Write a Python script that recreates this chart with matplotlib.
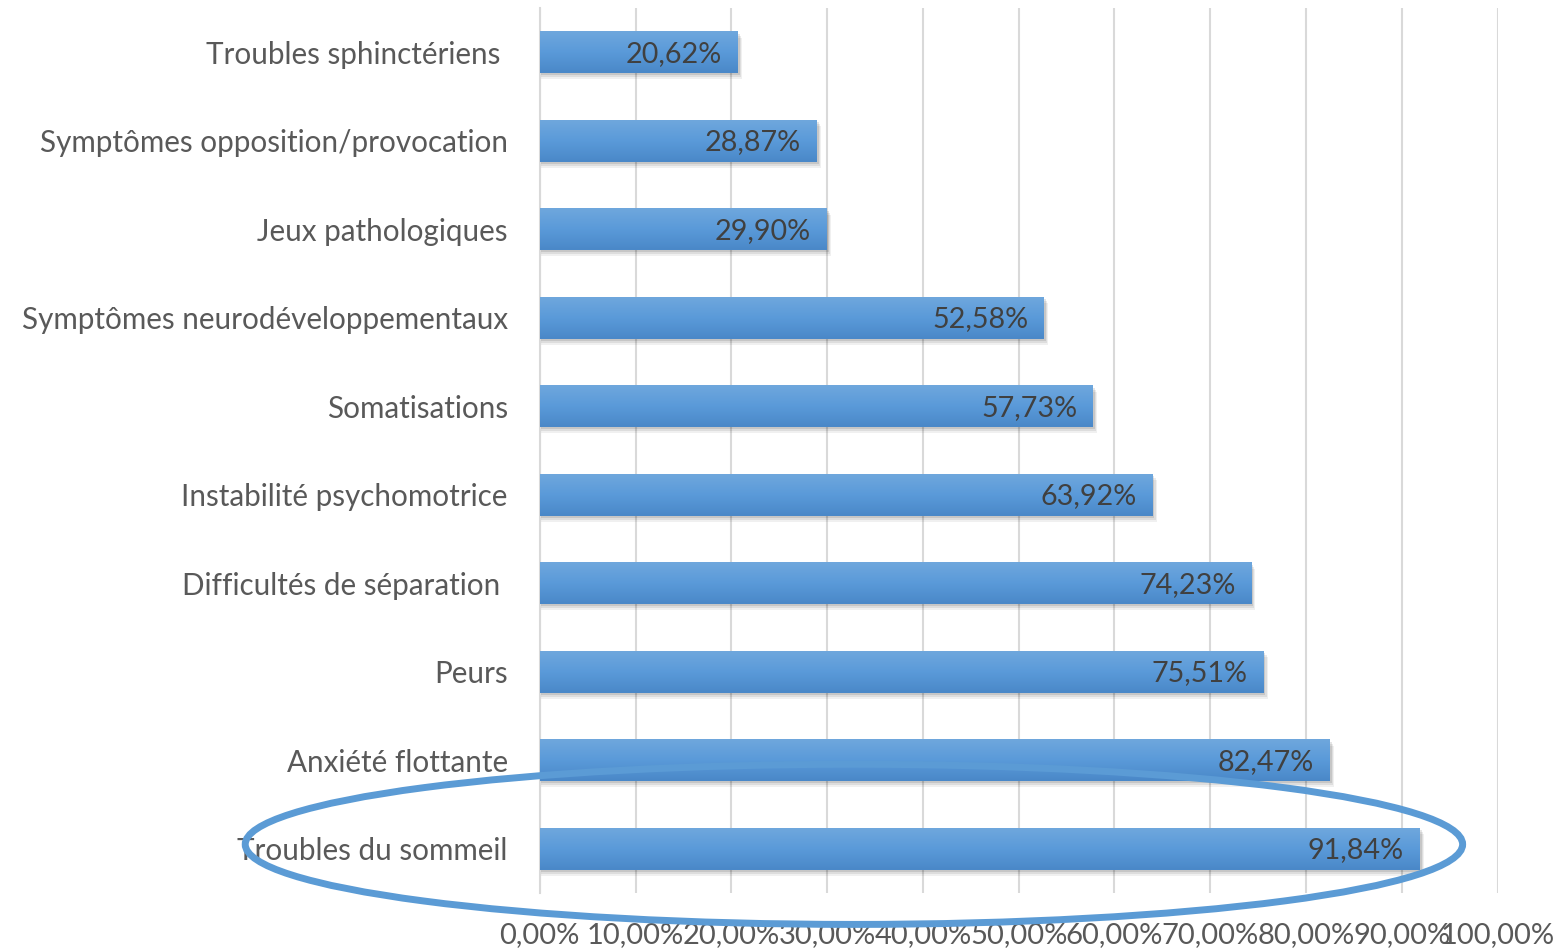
import numpy as np
import matplotlib
import matplotlib.pyplot as plt
from matplotlib.patches import Ellipse, Rectangle

matplotlib.use("Agg")

categories = [
    "Troubles sphinctériens ",
    "Symptômes opposition/provocation",
    "Jeux pathologiques",
    "Symptômes neurodéveloppementaux",
    "Somatisations",
    "Instabilité psychomotrice",
    "Difficultés de séparation ",
    "Peurs",
    "Anxiété flottante",
    "Troubles du sommeil",
]
values = [20.62, 28.87, 29.90, 52.58, 57.73, 63.92, 74.23, 75.51, 82.47, 91.84]
ticks = list(range(0, 101, 10))
highlight = "Troubles du sommeil"


def fr_pct(v):
    return f"{v:.2f}".replace(".", ",") + "%"


plt.rcParams["font.family"] = ["Lato", "DejaVu Sans"]

fig = plt.figure(figsize=(15.6, 9.5), dpi=100)
ax = fig.add_axes([0.346, 0.06, 0.614, 0.9316])

y = np.arange(len(categories))
height = 0.47
gradient = np.linspace(0, 1, 64).reshape(-1, 1)
cmap = matplotlib.colors.LinearSegmentedColormap.from_list("bar", ["#6fa7dd", "#5a9ad9", "#4a88c8"])

for yi, v in zip(y, values):
    # soft shadow
    for k, a in enumerate([0.10, 0.08, 0.06]):
        off = 0.012 * (k + 1)
        ax.add_patch(Rectangle((0.15, yi - height / 2 + off * 2), v + 0.1 + 0.12 * k, height,
                               color="black", alpha=a, lw=0, zorder=2))
    ax.imshow(gradient, cmap=cmap, aspect="auto", zorder=3,
              extent=(0, v, yi + height / 2, yi - height / 2))
    ax.text(v - 1.6, yi + 0.02, fr_pct(v), ha="right", va="center",
            fontsize=20.7, color="#404040", zorder=4)

ax.set_xlim(0, 100)
ax.set_ylim(len(categories) - 0.5, -0.5)
ax.set_yticks(y)
ax.set_yticklabels(categories)
ax.set_xticks(ticks)
ax.set_xticklabels([fr_pct(t) for t in ticks])
ax.tick_params(axis="y", length=0, pad=23, labelsize=21.3, labelcolor="#595959")
ax.tick_params(axis="x", length=0, pad=21, labelsize=21, labelcolor="#595959")
ax.grid(axis="x", color="#d9d9d9", lw=1.5, zorder=0)
ax.set_axisbelow(True)
for side in ("top", "right", "bottom"):
    ax.spines[side].set_visible(False)
ax.spines["left"].set_color("#d9d9d9")
ax.spines["left"].set_linewidth(1.5)

# highlight ellipse around one category
hy = categories.index(highlight)
ell = Ellipse((32.8, hy - 0.05), 127.1, 1.81, fill=False, edgecolor="#5b9bd5",
              lw=5, clip_on=False, zorder=10)
ax.add_patch(ell)

fig.savefig("out.png", dpi=100)
plt.close(fig)
